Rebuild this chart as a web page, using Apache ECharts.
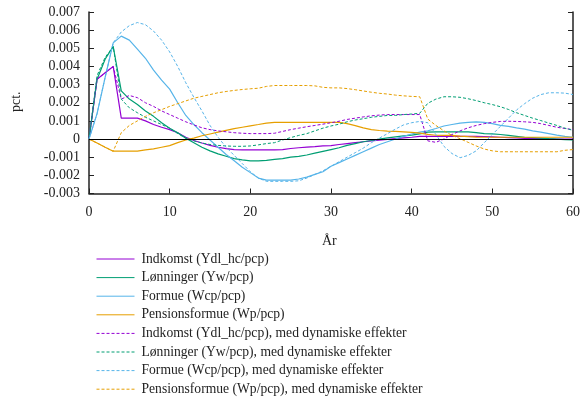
<!DOCTYPE html>
<html><head><meta charset="utf-8">
<script src="https://cdn.jsdelivr.net/npm/echarts@6/dist/echarts.min.js"></script>
<style>html,body{margin:0;padding:0;background:#fff}#c{width:583px;height:399px}</style>
</head><body><div id="c"></div>
<script>
const years = [0,1,2,3,4,5,6,7,8,9,10,11,12,13,14,15,16,17,18,19,20,21,22,23,24,25,26,27,28,29,30,31,32,33,34,35,36,37,38,39,40,41,42,43,44,45,46,47,48,49,50,51,52,53,54,55,56,57,58,59,60];
const yTicks = ['0.007','0.006','0.005','0.004','0.003','0.002','0.001','0','-0.001','-0.002','-0.003'];
const names = [
  'Indkomst (Ydl_hc/pcp)',
  'Lønninger (Yw/pcp)',
  'Formue (Wcp/pcp)',
  'Pensionsformue (Wp/pcp)',
  'Indkomst (Ydl_hc/pcp), med dynamiske effekter',
  'Lønninger (Yw/pcp), med dynamiske effekter',
  'Formue (Wcp/pcp), med dynamiske effekter',
  'Pensionsformue (Wp/pcp), med dynamiske effekter'
];
const incA = [0,0.0033,0.00365,0.004,0.00115,0.00115,0.00115,0.001,0.0008,0.00065,
  0.00052,0.00035,0.0001,-0.00008,-0.00022,-0.00035,-0.00045,-0.00053,-0.00058,-0.0006,
  -0.0006,-0.0006,-0.0006,-0.0006,-0.00058,-0.00052,-0.00048,-0.00045,-0.00042,-0.00038,
  -0.00036,-0.0003,-0.00025,-0.0002,-0.00015,-0.0001,-0.00006,-0.00002,0.00002,0.00006,
  0.0001,0.00015,0.00015,0.00015,0.00015,0.00015,0.00015,0.00015,0.00015,0.00014,
  0.00012,0.0001,0.00008,0.00006,0.00004,0.00003,0.00002,0.00001,0,0,0];
const wageA = [0,0.0033,0.0044,0.0051,0.00265,0.0022,0.0019,0.00155,0.00125,0.0009,
  0.0006,0.00035,0.00005,-0.0002,-0.00045,-0.00065,-0.00082,-0.00095,-0.00108,-0.00115,
  -0.0012,-0.0012,-0.00118,-0.00112,-0.00108,-0.001,-0.00095,-0.00088,-0.00078,-0.00068,
  -0.00058,-0.00048,-0.00035,-0.00025,-0.00015,-0.00008,0,0.00006,0.00012,0.00017,
  0.00022,0.00028,0.00038,0.0004,0.0004,0.0004,0.0004,0.0004,0.00035,0.0003,
  0.00028,0.00025,0.0002,0.00015,0.0001,0.00008,0.00005,0.00002,0,-0.00003,-0.00005];
const wealthA = [0,0.0014,0.0034,0.0053,0.00567,0.00545,0.00495,0.00445,0.0038,0.00325,
  0.00275,0.002,0.0013,0.0008,0.00035,-0.00005,-0.00045,-0.00085,-0.0012,-0.00155,
  -0.00185,-0.00215,-0.00226,-0.00226,-0.00226,-0.00226,-0.0022,-0.0021,-0.00195,-0.0018,
  -0.0015,-0.0013,-0.0011,-0.0009,-0.0007,-0.0005,-0.0003,-0.00015,0,0.00015,
  0.00028,0.00038,0.00045,0.00058,0.00072,0.0008,0.00088,0.00092,0.00095,0.00092,
  0.00085,0.00075,0.0007,0.00062,0.00055,0.00045,0.00038,0.0003,0.00022,0.00015,0.0001];
const pensA = [0,-0.00022,-0.00045,-0.00067,-0.00067,-0.00067,-0.00067,-0.0006,-0.00054,-0.00045,
  -0.00036,-0.0002,-0.00005,0.00005,0.00018,0.00028,0.00038,0.00048,0.00057,0.00065,
  0.00073,0.0008,0.00088,0.00092,0.00092,0.00092,0.00092,0.00092,0.00092,0.00092,
  0.00092,0.00092,0.00085,0.00074,0.00062,0.00052,0.00047,0.00044,0.00042,0.0004,
  0.00037,0.00033,0.00026,0.00021,0.0002,0.0002,0.00016,0.00013,0.00011,0.0001,
  0.0001,0.0001,0.0001,0.0001,0.0001,0.0001,0.0001,0.0001,0.0001,0.0001,0.0001];
const incB = [0,0.0033,0.00365,0.004,0.0022,0.0024,0.00228,0.002,0.0018,0.00155,
  0.00135,0.00115,0.00095,0.00078,0.00062,0.00052,0.00045,0.0004,0.00035,0.00032,
  0.0003,0.0003,0.0003,0.00032,0.00042,0.00052,0.0006,0.00068,0.00075,0.00082,
  0.0009,0.00098,0.00108,0.00115,0.00122,0.00128,0.00132,0.00135,0.00135,0.00135,
  0.00135,0.00135,-0.0001,-0.00018,0,0.00025,0.00045,0.00062,0.00075,0.00085,
  0.00092,0.00097,0.00098,0.00097,0.00095,0.00092,0.00085,0.00075,0.00065,0.00058,0.00052];
const wageB = [0,0.0035,0.0045,0.0051,0.0022,0.00172,0.00145,0.0012,0.001,0.0008,
  0.0006,0.0003,0.00005,-0.0001,-0.00022,-0.0003,-0.00035,-0.00038,-0.0004,-0.0004,
  -0.00038,-0.00032,-0.00025,-0.0002,-0.00005,0.00008,0.0002,0.0003,0.00045,0.0006,
  0.00072,0.00082,0.00095,0.00105,0.00112,0.0012,0.00125,0.0013,0.0013,0.00135,
  0.00138,0.00142,0.00197,0.0022,0.00233,0.00233,0.0023,0.00222,0.00212,0.002,
  0.0019,0.00178,0.00163,0.00145,0.0013,0.00115,0.00102,0.00088,0.00075,0.0006,0.00048];
const wealthB = [0,0.0014,0.0034,0.0053,0.0059,0.00625,0.00642,0.0063,0.00595,0.00545,
  0.0048,0.004,0.0031,0.0023,0.00155,0.00075,0.0001,-0.00045,-0.0009,-0.00135,
  -0.0018,-0.00215,-0.00233,-0.00233,-0.00233,-0.00233,-0.0023,-0.00215,-0.00195,-0.00175,
  -0.0015,-0.00125,-0.001,-0.00075,-0.0005,-0.0002,0.00005,0.0003,0.00055,0.00078,
  0.0009,0.00097,0.0009,0.00025,-0.0004,-0.0008,-0.00103,-0.0009,-0.00065,-0.0002,
  0.00025,0.0007,0.00115,0.0016,0.00195,0.00225,0.00245,0.00255,0.00255,0.00253,0.00245];
const pensB = [0,-0.00022,-0.00045,-0.00067,0.00035,0.00075,0.001,0.00125,0.00145,0.00162,
  0.0018,0.00195,0.0021,0.00225,0.00235,0.00245,0.00255,0.00262,0.00268,0.00273,
  0.00277,0.0028,0.0029,0.00295,0.00295,0.00295,0.00295,0.00295,0.00293,0.00285,
  0.00282,0.00282,0.00278,0.00272,0.00265,0.00258,0.00252,0.00248,0.00242,0.00238,
  0.00235,0.00233,0.0011,0.00075,0.00045,0.0002,0.00002,-0.00018,-0.00038,-0.00055,
  -0.00065,-0.0007,-0.0007,-0.0007,-0.0007,-0.0007,-0.0007,-0.0007,-0.0007,-0.00062,-0.00058];

const colors = ['#9400d3','#009e73','#56b4e9','#e69f00'];
const allData = [incA, wageA, wealthA, pensA, incB, wageB, wealthB, pensB];
const FONT = '"Liberation Serif","Times New Roman",serif';

const series = allData.map((vals, i) => {
  const dashed = i >= 4;
  return {
    name: names[i],
    type: 'line',
    data: years.map((t, k) => [t, vals[k]]),
    symbol: 'none',
    showSymbol: false,
    animation: false,
    lineStyle: { color: colors[i % 4], width: dashed ? 1 : 1.2, type: dashed ? [3, 2] : 'solid' },
    itemStyle: { color: colors[i % 4] },
    z: 3
  };
});
series.push({
  type: 'line', data: [], silent: true, animation: false,
  markLine: { symbol: 'none', silent: true, animation: false, label: { show: false },
    lineStyle: { color: '#000', width: 1.2, type: 'solid' },
    data: [{ yAxis: 0 }] },
  z: 2
});

const chart = echarts.init(document.getElementById('c'), null, { renderer: 'canvas' });
chart.setOption({
  backgroundColor: '#fff',
  animation: false,
  grid: { left: 89, right: 7, top: 12, bottom: 205.5 },
  xAxis: {
    type: 'value', min: 0, max: 60, interval: 10,
    axisLine: { show: true, onZero: false, lineStyle: { color: '#222', width: 1.5 } },
    axisTick: { show: true, inside: true, length: 5, lineStyle: { color: '#222' } },
    axisLabel: { color: '#222', fontFamily: FONT, fontSize: 14, margin: 12 },
    splitLine: { show: false }
  },
  yAxis: [{
    type: 'value', min: -0.003, max: 0.007, interval: 0.001,
    axisLine: { show: true, onZero: false, lineStyle: { color: '#222', width: 1.5 } },
    axisTick: { show: true, inside: true, length: 5, lineStyle: { color: '#222' } },
    axisLabel: { color: '#222', fontFamily: FONT, fontSize: 14, margin: 9,
      formatter: (v) => yTicks[Math.round((0.007 - v) / 0.001)] },
    splitLine: { show: false }
  }, {
    type: 'value', min: -0.003, max: 0.007, interval: 0.001, position: 'right',
    axisLine: { show: true, onZero: false, lineStyle: { color: '#222', width: 1.5 } },
    axisTick: { show: true, inside: true, length: 5, lineStyle: { color: '#222' } },
    axisLabel: { show: false },
    splitLine: { show: false }
  }],
  legend: {
    orient: 'vertical', left: 91, top: 247, height: 150,
    itemWidth: 38, itemHeight: 12, itemGap: 4.6,
    data: names,
    itemStyle: { opacity: 0 },
    lineStyle: { width: 1 },
    textStyle: { color: '#222', fontFamily: FONT, fontSize: 13.6, padding: [0, 0, 0, 2] },
    selectedMode: false
  },
  graphic: [
    { type: 'text', left: 322, top: 234, style: { text: 'År', font: '14px ' + FONT, fill: '#222' } },
    { type: 'text', x: 9, y: 112, rotation: Math.PI / 2,
      style: { text: 'pct.', font: '14px ' + FONT, fill: '#222' } }
  ],
  series: series
});
</script></body></html>
